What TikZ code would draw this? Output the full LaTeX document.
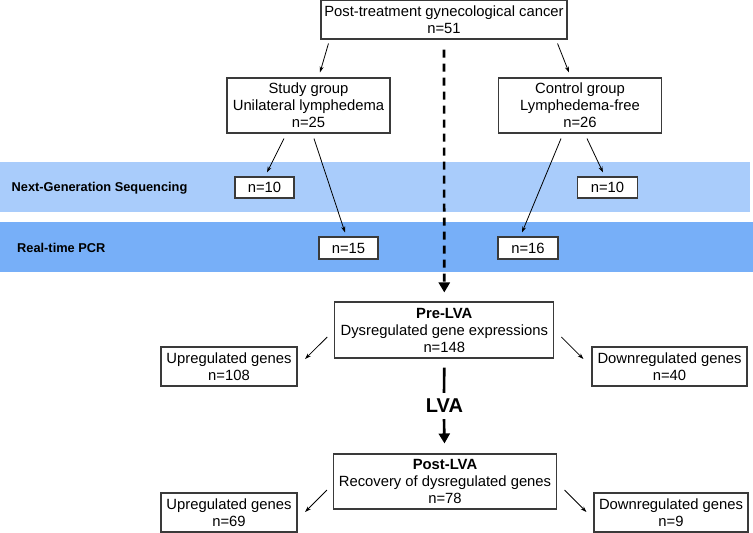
\documentclass[tikz,border=0pt]{standalone}
\usepackage{fontspec}
\setmainfont{Liberation Sans}
\usetikzlibrary{calc,arrows.meta}
\definecolor{ngsblue}{HTML}{A9CCFB}
\definecolor{pcrblue}{HTML}{77AFF8}
\definecolor{boxline}{HTML}{3A3A3A}
\begin{document}
\begin{tikzpicture}[x=1pt,y=-1pt,
  box/.style={draw=boxline,line width=1.1pt,fill=white,inner sep=0pt,align=center,
    font=\fontsize{14.8}{17}\selectfont},
  thinarrow/.style={-{Stealth[length=6pt,width=4pt]},line width=0.8pt,black},
  bandlabel/.style={anchor=west,inner sep=0pt,font=\fontsize{12.8}{15}\selectfont\bfseries},
  thickline/.style={line width=2.6pt,black}]
\useasboundingbox (0,0) rectangle (753,533);
% bands
\fill[ngsblue] (0,162) rectangle (750,212);
\fill[pcrblue] (0,222) rectangle (753,272);
\node[bandlabel] (ngs) at (11.5,188) {Next-Generation Sequencing};
\node[bandlabel] (pcr) at (17,248) {Real-time PCR};
% nodes
\node[box,minimum width=246pt,minimum height=39pt] (top) at (444,19.5) {Post-treatment gynecological cancer\\n=51};
\node[box,minimum width=163pt,minimum height=55pt] (study) at (308.5,105.5) {Study group\\Unilateral lymphedema\\n=25};
\node[box,minimum width=163pt,minimum height=55pt] (control) at (580,105.5) {Control group\\Lymphedema-free\\n=26};
\node[box,minimum width=59pt,minimum height=21pt] (n10L) at (264.5,187.5) {n=10};
\node[box,minimum width=60pt,minimum height=21pt] (n10R) at (607.5,187.5) {n=10};
\node[box,minimum width=59pt,minimum height=22pt] (n15) at (348.5,248) {n=15};
\node[box,minimum width=60pt,minimum height=22pt] (n16) at (528,248) {n=16};
\node[box,minimum width=219pt,minimum height=56pt] (pre) at (444.3,330) {\textbf{Pre-LVA}\\Dysregulated gene expressions\\n=148};
\node[box,minimum width=136pt,minimum height=39pt] (up1) at (229,366.5) {Upregulated genes\\n=108};
\node[box,minimum width=155pt,minimum height=39pt] (down1) at (669.5,366.5) {Downregulated genes\\n=40};
\node[inner sep=0pt,font=\fontsize{20}{22}\selectfont\bfseries] (lva) at (444.5,406) {LVA};
\node[box,minimum width=223pt,minimum height=55pt] (post) at (445,481.5) {\textbf{Post-LVA}\\Recovery of dysregulated genes\\n=78};
\node[box,minimum width=136pt,minimum height=39pt] (up2) at (229,512.5) {Upregulated genes\\n=69};
\node[box,minimum width=154pt,minimum height=39pt] (down2) at (671,512.5) {Downregulated genes\\n=9};
% thin arrows
\draw[thinarrow] ($(top.south west)+(8,4)$) -- ($(study.north)+(11.5,-5)$);
\draw[thinarrow] ($(top.south east)+(-10,4)$) -- ($(control.north)+(-11,-5)$);
\draw[thinarrow] ($(study.south)+(-24.5,5)$) -- ($(n10L.north)+(2.5,-4)$);
\draw[thinarrow] ($(study.south)+(5.5,5)$) -- ($(n15.north)+(-3.5,-4)$);
\draw[thinarrow] ($(control.south)+(-19,5)$) -- ($(n16.north)+(-6,-4)$);
\draw[thinarrow] ($(control.south)+(7,5)$) -- ($(n10R.north)+(-4.5,-4)$);
\draw[thinarrow] ($(pre.west)+(-7,7)$) -- ($(up1.east)+(7.5,-7.5)$);
\draw[thinarrow] ($(pre.east)+(7,7)$) -- ($(down1.west)+(-8,-7.5)$);
\draw[thinarrow] ($(post.west)+(-6,8.5)$) -- ($(up2.east)+(7.5,-0.5)$);
\draw[thinarrow] ($(post.east)+(7.5,8.5)$) -- ($(down2.west)+(-7,-0.5)$);
% dashed main line
\draw[line width=2.6pt,dash pattern=on 8pt off 6pt,-{Triangle[length=10pt,width=11pt]}] ($(top.south)+(0,10)$) -- ($(pre.north)+(0,-9)$);
% LVA
\draw[thickline] ($(pre.south)+(0,9)$) -- ($(lva.north)+(-0.5,-6)$);
\draw[thickline,-{Triangle[length=10pt,width=11pt]}] ($(lva.south)+(-0.5,6)$) -- ($(post.north)+(-0.5,-10)$);
\end{tikzpicture}
\end{document}
